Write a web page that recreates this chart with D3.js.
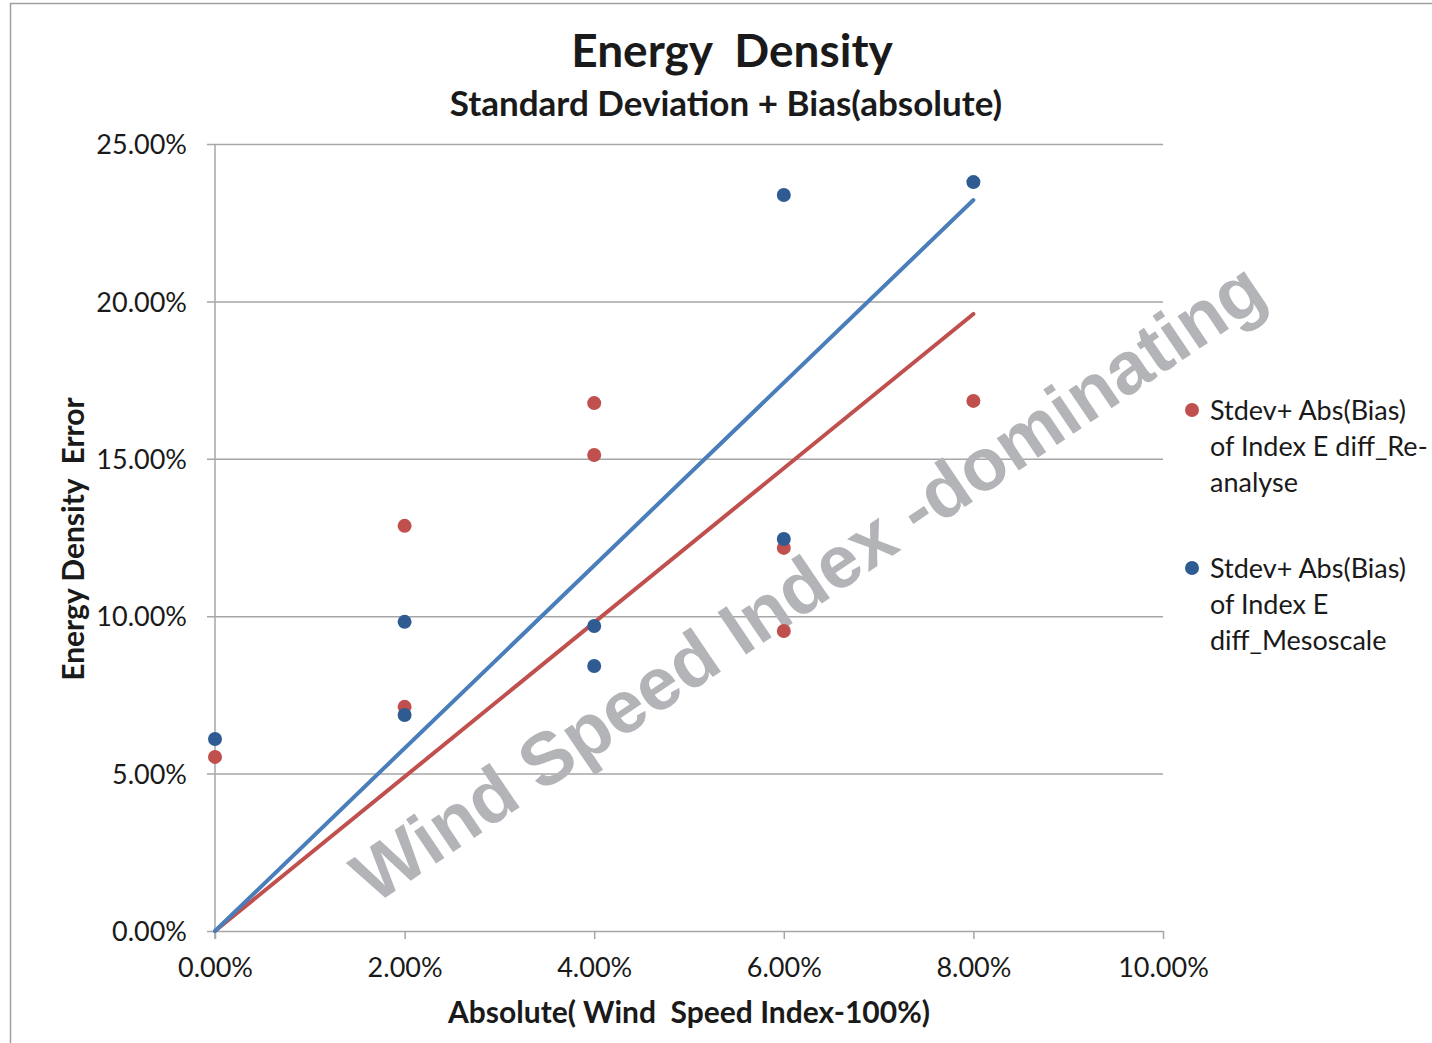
<!DOCTYPE html>
<html lang="en">
<head>
<meta charset="UTF-8">
<title>Energy Density</title>
<style>
  body { margin: 0; background: #fff; }
  svg text { font-family: Lato, "Open Sans", sans-serif; fill: #1a1a1a; white-space: pre; }
  .tick text { font-size: 27px; }
  .watermark { font-family: "Liberation Sans", Arial, sans-serif !important; font-weight: bold; fill: #b3b4b7 !important; }
</style>
</head>
<body>
<svg width="1432" height="1043"></svg>
<script src="https://cdnjs.cloudflare.com/ajax/libs/d3/7.8.5/d3.min.js"></script>
<script>
// x values (abs wind speed index - 100%)
const reanalyseX = [0, 0.02, 0.02, 0.04, 0.04, 0.06, 0.06, 0.08];
const reanalyseY = [0.0553, 0.1287, 0.0712, 0.1677, 0.1512, 0.1217, 0.0953, 0.1684];
const mesoX = [0, 0.02, 0.02, 0.04, 0.04, 0.06, 0.06, 0.08];
const mesoY = [0.0610, 0.0982, 0.0686, 0.0969, 0.0842, 0.2338, 0.1245, 0.2379];
// linear trend lines through origin
const trendX = [0, 0.08];
const reanalyseTrend = [0, 0.196];
const mesoTrend = [0, 0.2322];

const xTicks = [0, 0.02, 0.04, 0.06, 0.08, 0.10];
const yTicks = [0, 0.05, 0.10, 0.15, 0.20, 0.25];

const legendLabels = [
  ['Stdev+ Abs(Bias)', 'of Index E diff_Re-', 'analyse'],
  ['Stdev+ Abs(Bias)', 'of Index E', 'diff_Mesoscale']
];

const RED = '#c0504d', BLUE_PT = '#2f5b93', BLUE_LN = '#4a7ebb', GRID = '#a6a6a6';

var svg = d3.select('svg');

// outer chart frame
svg.append('rect')
  .attr('x', 10.5).attr('y', 3.5)
  .attr('width', 1500).attr('height', 1100)
  .attr('fill', 'none').attr('stroke', '#a0a0a0').attr('stroke-width', 1.5);

var x = d3.scaleLinear().domain([0, 0.10]).range([215, 1163]);
var y = d3.scaleLinear().domain([0, 0.25]).range([931, 144]);

// horizontal gridlines + y ticks
svg.append('g')
  .attr('transform', 'translate(1163,0)')
  .call(d3.axisLeft(y).tickValues(yTicks).tickSize(1163 - 207).tickFormat(d3.format('.2%')))
  .call(g => g.select('.domain').remove())
  .call(g => g.selectAll('.tick line').attr('stroke', GRID).attr('stroke-width', 1.5))
  .call(g => g.selectAll('.tick text').attr('x', -(1163 - 187)).attr('dy', '0.36em'));

// x axis ticks
svg.append('g')
  .attr('transform', 'translate(0,931)')
  .call(d3.axisBottom(x).tickValues(xTicks).tickSize(8).tickFormat(d3.format('.2%')))
  .call(g => g.select('.domain').remove())
  .call(g => g.selectAll('.tick line').attr('stroke', GRID).attr('stroke-width', 1.5))
  .call(g => g.selectAll('.tick text').attr('y', 27).attr('dy', '0.71em'));

// y axis line
svg.append('line')
  .attr('x1', x(0)).attr('x2', x(0))
  .attr('y1', y(0.25)).attr('y2', y(0) + 8)
  .attr('stroke', GRID).attr('stroke-width', 1.5);

// watermark
svg.append('text')
  .attr('class', 'watermark')
  .attr('transform', 'translate(808,582) rotate(-34)')
  .attr('text-anchor', 'middle')
  .attr('dominant-baseline', 'central')
  .attr('font-size', 74)
  .text('Wind Speed Index -dominating');

// trend lines
var line = d3.line().x(d => x(d[0])).y(d => y(d[1]));
svg.append('path')
  .datum(d3.zip(trendX, reanalyseTrend))
  .attr('d', line).attr('fill', 'none')
  .attr('stroke', RED).attr('stroke-width', 4).attr('stroke-linecap', 'round');
svg.append('path')
  .datum(d3.zip(trendX, mesoTrend))
  .attr('d', line).attr('fill', 'none')
  .attr('stroke', BLUE_LN).attr('stroke-width', 4).attr('stroke-linecap', 'round');

// scatter points
svg.append('g').selectAll('circle')
  .data(d3.zip(reanalyseX, reanalyseY))
  .enter().append('circle')
  .attr('cx', d => x(d[0])).attr('cy', d => y(d[1]))
  .attr('r', 7).attr('fill', RED);
svg.append('g').selectAll('circle')
  .data(d3.zip(mesoX, mesoY))
  .enter().append('circle')
  .attr('cx', d => x(d[0])).attr('cy', d => y(d[1]))
  .attr('r', 7).attr('fill', BLUE_PT);

// titles
svg.append('text')
  .attr('x', 732).attr('y', 67)
  .attr('text-anchor', 'middle')
  .attr('font-size', 46).attr('font-weight', 'bold')
  .text('Energy  Density');
svg.append('text')
  .attr('x', 726).attr('y', 116)
  .attr('text-anchor', 'middle')
  .attr('font-size', 35).attr('font-weight', 'bold')
  .text('Standard Deviation + Bias(absolute)');

svg.append('text')
  .attr('x', 689).attr('y', 1023)
  .attr('text-anchor', 'middle')
  .attr('font-size', 30).attr('font-weight', 'bold')
  .text('Absolute( Wind  Speed Index-100%)');

svg.append('text')
  .attr('transform', 'translate(84,539) rotate(-90)')
  .attr('text-anchor', 'middle')
  .attr('font-size', 30).attr('font-weight', 'bold')
  .text('Energy Density  Error');

// legend
var legend = svg.append('g');
var legendColors = [RED, BLUE_PT];
var legendTop = [410, 568];
legendLabels.forEach(function (lines, i) {
  legend.append('circle')
    .attr('cx', 1192).attr('cy', legendTop[i])
    .attr('r', 7).attr('fill', legendColors[i]);
  lines.forEach(function (t, j) {
    legend.append('text')
      .attr('x', 1210).attr('y', legendTop[i] + j * 36)
      .attr('dy', '0.36em')
      .attr('font-size', 27)
      .text(t);
  });
});
</script>
</body>
</html>
